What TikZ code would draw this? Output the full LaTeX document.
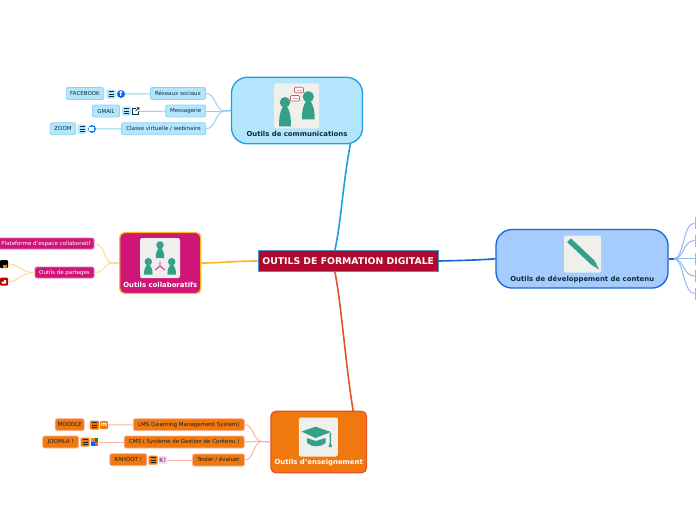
\documentclass[tikz,border=0pt]{standalone}
\usepackage{fontspec}
\setmainfont{DejaVu Sans}
\definecolor{blueedge}{HTML}{1B9FE0}
\definecolor{bluefill}{HTML}{B3E5FC}
\definecolor{bluelite}{HTML}{8ED4F5}
\definecolor{navyedge}{HTML}{1565D8}
\definecolor{navyfill}{HTML}{A6CBFF}
\definecolor{navylite}{HTML}{8FB8F5}
\definecolor{magfill}{HTML}{CF1578}
\definecolor{goldedge}{HTML}{F9B91E}
\definecolor{goldlite}{HTML}{FBDD8C}
\definecolor{orafill}{HTML}{F0780E}
\definecolor{oraedge}{HTML}{E8502A}
\definecolor{oralite}{HTML}{F9B5A0}
\definecolor{rootfill}{HTML}{B0082E}
\definecolor{rootedge}{HTML}{4A90C8}
\definecolor{tealicon}{HTML}{35A08A}
\definecolor{tilefill}{HTML}{EFF0EC}
\definecolor{inktext}{HTML}{0B2C3A}
\definecolor{bubbleedge}{HTML}{D9506E}
\tikzset{
  rootbox/.style={draw=rootedge,line width=1.4pt,fill=rootfill,text=white,inner sep=0pt,minimum width=180,minimum height=21.5,font=\bfseries\fontsize{9.3}{10}\selectfont},
  mainbox/.style={line width=1.3pt,inner sep=0pt},
  maintext/.style={font=\bfseries\fontsize{6.9}{8}\selectfont},
  leafbox/.style={rounded corners=2pt,line width=0.9pt,inner sep=0pt,minimum height=12,font=\fontsize{5.5}{6}\selectfont},
  bluebox/.style={leafbox,draw=bluelite,fill=bluefill,text=inktext},
  magbox/.style={leafbox,draw=magfill!60!white,fill=magfill,text=white,minimum height=11},
  orabox/.style={leafbox,draw=oralite,fill=orafill,text=inktext!80!black},
  tile/.style={fill=tilefill,rounded corners=2pt,inner sep=0pt},
  bluelink/.style={draw=bluelite,line width=1pt},
  navylink/.style={draw=navylite,line width=1pt},
  maglink/.style={draw=goldlite,line width=1pt},
  oralink/.style={draw=oralite,line width=1pt},
  mainlink/.style={line width=1.6pt},
  bubble/.style={draw=bubbleedge,fill=white,line width=0.7pt,minimum width=9,minimum height=5.5,inner sep=0pt,rounded corners=1pt},
  edgetick/.style={fill=navylite,minimum width=1.5,minimum height=12,inner sep=0pt}
}
% one person on a tile
\newcommand{\person}[4]{
\fill[tealicon] (#1,#2) circle ({#3*0.75});
\fill[tealicon] ({#1-#3*0.3},{#2+#3*0.6}) .. controls ({#1-#3*0.7},{#2+#3*1.2}) and ({#1-#3*0.85},{#2+#4*0.6}) .. ({#1-#3*0.85},{#2+#4}) -- ({#1+#3*0.85},{#2+#4}) .. controls ({#1+#3*0.85},{#2+#4*0.6}) and ({#1+#3*0.7},{#2+#3*1.2}) .. ({#1+#3*0.3},{#2+#3*0.6}) -- cycle;
}
% burger icon of the notes
\newcommand{\burger}[3]{
\node[fill=#3,rounded corners=1pt,minimum size=9,inner sep=0pt] (#1) at #2 {};
\draw[line width=0.7pt,inktext] ([xshift=-2.5,yshift=-2.2]#1.center) -- ([xshift=2.5,yshift=-2.2]#1.center);
\draw[line width=0.7pt,inktext] ([xshift=-2.5]#1.center) -- ([xshift=2.5]#1.center);
\draw[line width=0.7pt,inktext] ([xshift=-2.5,yshift=2.2]#1.center) -- ([xshift=2.5,yshift=2.2]#1.center);
}
\begin{document}
\begin{tikzpicture}[x=1pt,y=-1pt]
\useasboundingbox (0,0) rectangle (696,520);
\fill[white] (0,0) rectangle (696,520);
% root and main links
\node[rootbox] (root) at (348.2,261) {OUTILS DE FORMATION DIGITALE};
\coordinate (hubtop) at (335,250);
\coordinate (hubbot) at (335,272);
\coordinate (commfoot) at (350.5,143);
\coordinate (teachtop) at (353.3,412);
\draw[blueedge,mainlink] (hubtop) .. controls (342,215) and (342,190) .. (commfoot);
\draw[oraedge,mainlink] (hubbot) .. controls (342,310) and (345,360) .. (teachtop);
% communications
\node[mainbox,draw=blueedge,fill=bluefill,rounded corners=16,minimum width=131,minimum height=66.5] (comm) at (297,110.5) {};
\node[tile,minimum width=45,minimum height=45] (commtile) at (296.5,105.8) {};
\node[text=inktext,maintext] (commtext) at (297,134.3) {Outils de communications};
\person{285}{102.3}{7}{24}
\person{308.3}{96.7}{7.5}{22.6}
\node[bubble] (bubblea) at (299,90) {};
\node[bubble] (bubbleb) at (295,98.3) {};
\draw[bubbleedge!60!white,line width=0.8pt] (296.5,90) -- (301.5,90) (292.5,98.3) -- (297.5,98.3);
% collaboration
\node[mainbox,draw=goldedge,fill=magfill,rounded corners=5,minimum width=81,minimum height=61] (collab) at (160.3,263) {};
\draw[goldedge,mainlink] (root.west) .. controls (235,261) and (220,263) .. (collab.east);
\node[tile,minimum width=40,minimum height=40] (collabtile) at (160,258) {};
\node[text=white,maintext] (collabtext) at (160.3,284.5) {Outils collaboratifs};
\person{160}{245}{5}{13}
\person{148.3}{261.7}{5}{13}
\person{171.7}{261.7}{5}{13}
\draw[magfill,line width=0.8pt] (160,261.5) -- (160,266) -- (155,270) (160,266) -- (165,270);
% teaching
\node[mainbox,draw=oraedge,fill=orafill,rounded corners=5,minimum width=95.5,minimum height=61.5] (teach) at (318.7,442) {};
\node[tile,minimum width=39,minimum height=39] (teachtile) at (318.3,437) {};
\node[text=white,maintext] (teachtext) at (318.7,462.3) {Outils d'enseignement};
\fill[tealicon] (307,438) -- (316,441) -- (325.5,438) -- (325.5,443) .. controls (321,447.5) and (312,447.5) .. (307,443) -- cycle;
\fill[tealicon] (301.5,431.5) -- (315.5,426.7) -- (331,432) -- (315.5,438) -- cycle;
\fill[tealicon] (329.6,433) rectangle (331,442) (328.5,447) -- (330.3,441) -- (332,447) -- cycle;
% content
\node[mainbox,draw=navyedge,fill=navyfill,rounded corners=16,minimum width=172,minimum height=58.5] (dev) at (582,258.8) {};
\draw[navyedge,mainlink] (root.east) .. controls (460,260.5) and (480,260) .. (dev.west);
\node[tile,minimum width=37,minimum height=37] (devtile) at (582.5,254) {};
\node[text=inktext,maintext] (devtext) at (582.3,279.5) {Outils de développement de contenu};
\fill[tealicon,rounded corners=0.5pt] (567,242) -- (571,238.5) -- (595,261) -- (591.5,265) -- cycle;
\fill[tealicon] (595,261) -- (591.5,265) -- (598.5,269) -- cycle;
\fill[bubbleedge] (597,268.2) -- (598.8,269.4) -- (598.2,267.2) -- cycle;
% communications branches
\coordinate (commend) at (225,111);
\draw[blueedge!60!white,line width=1.4pt] (commend) -- (comm.west);
\node[bluebox,minimum width=55] (social) at (178,93.5) {Réseaux sociaux};
\node[bluebox,minimum width=40] (mail) at (185.7,111) {Messagerie};
\node[bluebox,minimum width=84] (virtual) at (163.5,128.7) {Classe virtuelle / webinaire};
\draw[bluelink] (commend) .. controls (215,111) and (216,93.5) .. (social.east);
\draw[bluelink] (commend) -- (mail.east);
\draw[bluelink] (commend) .. controls (215,111) and (216,128.7) .. (virtual.east);
\node[bluebox,minimum width=37.5] (facebook) at (85,93.5) {FACEBOOK};
\node[bluebox,minimum width=27] (gmail) at (106,111) {GMAIL};
\node[bluebox,minimum width=25.5] (zoom) at (63,128.7) {ZOOM};
\node[circle,fill=blue!60!cyan,minimum size=8,inner sep=0pt,text=white,font=\bfseries\fontsize{7}{7}\selectfont] (fbicon) at (121,94) {f};
\node[draw=inktext,line width=0.7pt,minimum size=5.5,inner sep=0pt] (gmailicon) at (135.5,111.5) {};
\node[circle,fill=blue!45!cyan,minimum size=8,inner sep=0pt] (zoomicon) at (92,129) {};
\fill[white] (89,127.3) rectangle (94,130.7);
\draw[bluelink] (fbicon) -- (social);
\draw[bluelink] (gmailicon) -- (mail);
\draw[bluelink] (zoomicon) -- (virtual);
\fill[white] (136,107) rectangle (140,110.5);
\draw[inktext,line width=0.7pt] (135.5,111) -- (139,107.7) (136.5,107.7) -- (139,107.7) -- (139,110);
\burger{fbnote}{(111,94)}{bluefill}
\burger{gmailnote}{(126.5,111)}{bluefill}
\burger{zoomnote}{(82,129)}{bluefill}
% collaboration branches
\coordinate (collabend) at (113,263);
\draw[goldlite,line width=1.4pt] (collabend) -- (collab.west);
\node[magbox,minimum width=96] (platform) at (46,243.5) {Plateforme d'espace collaboratif};
\node[magbox,minimum width=59] (sharing) at (64.5,272.5) {Outils de partages};
\draw[maglink] (collabend) .. controls (103,263) and (106,243.5) .. (platform.east);
\draw[maglink] (collabend) .. controls (103,263) and (106,272.5) .. (sharing.east);
\node[rounded corners=1pt,fill=black,minimum size=8,inner sep=0pt] (shareicona) at (4,264) {};
\fill[orange] (3,264.5) rectangle (7,267.5);
\node[rounded corners=1pt,fill=red!75!black,minimum size=8,inner sep=0pt] (shareiconb) at (4,281.7) {};
\fill[white] (1.5,281.5) rectangle (4,283.5) (4,280) rectangle (6,283.5);
\draw[maglink] (shareicona) .. controls (20,264) and (20,272.5) .. (sharing.west);
\draw[maglink] (shareiconb) .. controls (20,281.7) and (20,272.5) .. (sharing.west);
% teaching branches
\coordinate (teachend) at (262,441.5);
\draw[oralite,line width=1.4pt] (teachend) -- (teach.west);
\node[orabox,minimum width=111] (lms) at (188.8,424.7) {LMS (Learning Management System)};
\node[orabox,minimum width=120] (cms) at (184.2,442) {CMS ( Système de Gestion de Contenu )};
\node[orabox,minimum width=52] (eval) at (218.5,460) {Tester / évaluer};
\draw[oralink] (teachend) .. controls (253,441.5) and (254,424.7) .. (lms.east);
\draw[oralink] (teachend) -- (cms.east);
\draw[oralink] (teachend) .. controls (253,441.5) and (254,460) .. (eval.east);
\node[orabox,minimum width=29] (moodle) at (69.7,424.7) {MOODLE};
\node[orabox,minimum width=36] (joomla) at (60.7,442) {JOOMLA !};
\node[orabox,minimum width=37] (kahoot) at (128.3,459.7) {KAHOOT !};
\node[fill=orafill,rounded corners=1pt,minimum size=8,inner sep=0pt,text=white,font=\bfseries\fontsize{6}{6}\selectfont] (moodleicon) at (104,425) {m};
\node[minimum size=8,inner sep=0pt] (joomlaicon) at (94.5,442) {};
\fill[orange] (90.7,438.2) rectangle (94.5,442);
\fill[red!70!white] (94.5,442) rectangle (98.3,445.8);
\fill[blue!60!cyan] (90.7,442) rectangle (94.5,445.8);
\fill[green!60!black] (94.5,438.2) rectangle (98.3,442);
\node[fill=violet!12!white,text=violet!70!white,minimum size=8,inner sep=0pt,font=\bfseries\fontsize{6}{6}\selectfont] (kahooticon) at (162.7,460) {K!};
\draw[oralink] (moodleicon) -- (lms);
\draw[oralink] (joomlaicon) -- (cms);
\draw[oralink] (kahooticon) -- (eval);
\burger{moodlenote}{(94.5,425)}{orafill}
\burger{joomlanote}{(85,442)}{orafill}
\burger{kahootnote}{(153,460)}{orafill}
% content branches
\coordinate (devend) at (674,258.8);
\node[edgetick] (deva) at (695.5,223) {};
\node[edgetick] (devb) at (695.5,240.5) {};
\node[edgetick] (devc) at (695.5,258.8) {};
\node[edgetick] (devd) at (695.5,276) {};
\node[edgetick] (deve) at (695.5,293.5) {};
\draw[navyedge,line width=1.4pt] (dev.east) -- (devend);
\draw[navylink] (devend) .. controls (684,258.8) and (683,223) .. (deva.west);
\draw[navylink] (devend) .. controls (684,258.8) and (683,240.5) .. (devb.west);
\draw[navylink] (devend) -- (devc.west);
\draw[navylink] (devend) .. controls (684,258.8) and (683,276) .. (devd.west);
\draw[navylink] (devend) .. controls (684,258.8) and (683,293.5) .. (deve.west);
\end{tikzpicture}
\end{document}
